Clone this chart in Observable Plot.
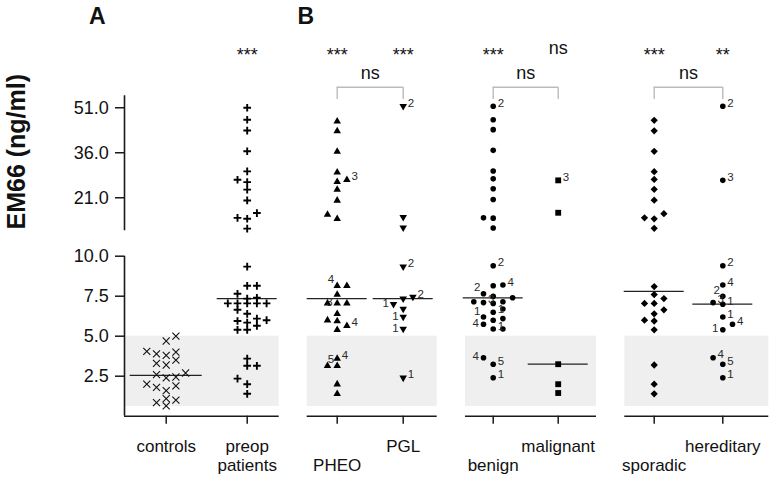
<!DOCTYPE html>
<html><head><meta charset="utf-8">
<script src="https://cdn.jsdelivr.net/npm/d3@7"></script>
<script src="https://cdn.jsdelivr.net/npm/@observablehq/plot@0.6"></script>
<style>body{margin:0;background:#fff;}</style>
</head><body><div id="chart"></div>
<script>
// ---------------- DATA ----------------
const categories = ["controls","preop","PHEO","PGL","benign","malignant","sporadic","hereditary"];
const categoryLabels = ["controls","preop\npatients","\nPHEO","PGL","\nbenign","malignant","\nsporadic","hereditary"];
const controls = [5.0,4.7,4.05,4.0,3.9,3.8,3.5,3.3,3.2,2.7,2.6,2.45,2.4,2.0,1.9,1.8,1.6,1.1,1.0,0.85,0.65];
const preop = [51.0,47.0,43.4,36.5,29.8,27.0,26.2,23.7,20.1,15.9,14.3,14.0,10.7,9.35,8.15,8.15,7.65,7.4,7.35,7.05,7.05,7.05,7.05,7.05,6.65,6.4,6.1,6.0,5.95,5.85,5.65,5.4,5.4,3.6,3.15,3.15,2.35,2.0,1.4];
const pheo = [46.5,43.2,36.4,29.5,27.0,26.3,23.7,20.1,15.4,14.0,8.15,8.15,7.6,7.05,7.05,7.05,6.4,6.0,5.95,5.65,5.4,3.6,3.15,3.15,2.0,1.4];
const pgl = [51.5,14.5,11.0,9.35,7.45,7.35,7.0,6.7,6.2,5.45,2.4];
const benign = [51.5,47.0,43.7,36.8,29.9,27.3,24.0,20.4,14.3,14.2,10.9,9.4,8.2,8.15,7.65,7.5,7.4,7.15,7.15,7.1,7.05,6.7,6.5,6.2,6.1,6.0,5.75,5.45,5.45,3.65,3.25,2.4];
const malignant = [26.8,16.0,3.25,2.0,1.45];
const sporadic = [46.8,43.3,36.5,29.7,27.1,23.8,20.2,15.7,14.3,14.0,10.8,8.1,7.6,7.35,7.05,7.05,6.65,6.4,6.0,5.95,5.4,3.2,2.0,1.4];
const hereditary = [51.5,26.8,9.4,8.2,7.5,7.1,7.0,6.2,5.75,5.4,3.65,3.25,2.4];
const seriesValues = [controls, preop, pheo, pgl, benign, malignant, sporadic, hereditary];
const medians = [2.55,7.35,7.35,7.35,7.4,3.25,7.8,7.0];
const significance = ["", "***","***","***","***","ns","***","**"];
const comparisons = [["PHEO","PGL","ns"],["benign","malignant","ns"],["sporadic","hereditary","ns"]];
const referenceRange = [0.6, 5.0];
const lowerTicks = [2.5, 5.0, 7.5, 10.0];
const upperTicks = [21.0, 36.0, 51.0];
const lowerSegment = [0, 10];
const upperSegment = [10, 55];
// point annotations: [category, value, text, side]
const pointNotes = [
  ["PHEO",27.0,"3","r"],["PHEO",8.15,"4","ul"],["PHEO",7.05,"3","l"],["PHEO",5.65,"4","r"],["PHEO",3.6,"4","r"],["PHEO",3.15,"5","ul"],
  ["PGL",51.5,"2","r"],["PGL",9.35,"2","r"],["PGL",7.45,"2","r"],["PGL",7.0,"1","l"],["PGL",6.2,"1","l"],["PGL",5.45,"1","l"],["PGL",2.4,"1","r"],
  ["benign",51.5,"2","r"],["benign",9.4,"2","r"],["benign",8.2,"4","r"],["benign",7.65,"2","ul"],["benign",7.1,"3","r"],["benign",6.5,"1","r"],
  ["benign",6.2,"1","ul"],["benign",5.75,"4","l"],["benign",5.45,"1","r"],["benign",3.65,"4","l"],["benign",3.25,"5","r"],["benign",2.4,"1","r"],
  ["malignant",26.8,"3","r"],
  ["hereditary",51.5,"2","r"],["hereditary",26.8,"3","r"],["hereditary",9.4,"2","r"],["hereditary",8.2,"4","r"],["hereditary",7.5,"2","ul"],
  ["hereditary",7.1,"3","r"],["hereditary",7.0,"1","r"],["hereditary",6.2,"1","r"],["hereditary",5.75,"4","r"],["hereditary",5.4,"1","l"],
  ["hereditary",3.65,"4","r"],["hereditary",3.25,"5","r"],["hereditary",2.4,"1","r"]
];

// ---------------- LAYOUT ----------------
const layout = {
  catX: {controls:165.7, preop:246.7, PHEO:336.7, PGL:402.7, benign:492.7, malignant:557.7, sporadic:653.7, hereditary:722.3},
  panels: [[124,278.7],[306.7,436.7],[465,596],[624.3,768.3]],
  titles: [["A",96.7],["B",305.3]],
  yTitleX: 16,
  step: 9.7, collide: 7, maxK: 2, medianHalf: 30, controlsMedianHalf: 36,
  gapUnits: 1.59, upperRatio: 3/16
};
const brkUp = v => lowerSegment[1] + layout.gapUnits + (v - lowerSegment[1]) * layout.upperRatio;
const brk = v => v <= lowerSegment[1] ? v : brkUp(v);
const yOpts = {domain: [0, 10], range: [415.7, 255.7]};
const yScale = Plot.scale({y: yOpts});
const yPx = v => yScale.apply(brk(v));
const yAtPx = px => yScale.invert(px);
const axisX = layout.panels[0][0];

// symbols
const triDown = {draw(ctx, size) {
  const y = -Math.sqrt(size / (Math.sqrt(3) * 3));
  ctx.moveTo(0, -y * 2); ctx.lineTo(-Math.sqrt(3) * y, y); ctx.lineTo(Math.sqrt(3) * y, y); ctx.closePath();
}};
const diamondSq = {draw(ctx, size) {
  const r = Math.sqrt(size / 2);
  ctx.moveTo(0, -r); ctx.lineTo(r, 0); ctx.lineTo(0, r); ctx.lineTo(-r, 0); ctx.closePath();
}};
const symbolStyle = {
  controls: {symbol: "times", r: 3.3, stroke: "#111", strokeWidth: 1.1, fill: "none"},
  preop: {symbol: "plus", r: 2.6, stroke: "#000", strokeWidth: 1.9, fill: "none"},
  PHEO: {symbol: "triangle", r: 2.8, fill: "#000"},
  PGL: {symbol: triDown, r: 2.8, fill: "#000"},
  benign: {symbol: "circle", r: 2.8, fill: "#000"},
  malignant: {symbol: "square", r: 3.3, fill: "#000"},
  sporadic: {symbol: diamondSq, r: 2.9, fill: "#000"},
  hereditary: {symbol: "circle", r: 2.8, fill: "#000"}
};

// ---------------- build point table & swarm (beeswarm per category) ----------------
const points = [];
categories.forEach((cat, ci) => {
  const pts = seriesValues[ci].map(v => ({cat, v, k: 0, label: null, side: null}));
  const order = pts.slice().sort((a, b) => a.v - b.v);
  const placed = [];
  let pref = -1;
  for (const p of order) {
    const y = yPx(p.v);
    const gap = k => placed.reduce((m, q) => q.k === k ? Math.min(m, Math.abs(q.y - y)) : m, Infinity);
    const cands = [0];
    for (let m = 1; m <= layout.maxK; m++) cands.push(pref * m, -pref * m);
    let k = cands.find(c => gap(c) >= layout.collide);
    if (k === undefined) {
      let best = -1;
      for (const c of cands) { const g = gap(c); if (g > best + 1e-9) { best = g; k = c; } }
    }
    if (k !== 0) pref = -Math.sign(k);
    placed.push({y, k});
    p.k = k;
  }
  pts.forEach(p => { p.x = layout.catX[cat] + p.k * layout.step; });
  points.push(...pts);
});
for (const [cat, v, text, side] of pointNotes) {
  const p = points.find(q => q.cat === cat && Math.abs(q.v - v) < 1e-9 && q.label == null);
  if (p) { p.label = text; p.side = side; }
}

// ---------------- marks ----------------
const marks = [];
marks.push(Plot.rect(layout.panels, {x1: d => d[0], x2: d => d[1], y1: brk(referenceRange[0]), y2: brk(referenceRange[1]), fill: "#efefef"}));
marks.push(Plot.ruleY(layout.panels, {y: lowerSegment[0], x1: d => d[0], x2: d => d[1], stroke: "#1a1a1a", strokeWidth: 1.6}));
marks.push(Plot.ruleX(categories, {x: c => layout.catX[c], y1: lowerSegment[0], y2: yAtPx(yScale.apply(0) + 8), stroke: "#1a1a1a", strokeWidth: 1.5}));
// y axis lines
marks.push(Plot.ruleX([[lowerSegment[0], lowerSegment[1]], [brkUp(upperSegment[0]), brkUp(upperSegment[1])]], {x: axisX, y1: d => d[0], y2: d => d[1], stroke: "#1a1a1a", strokeWidth: 1.6}));
const yTicks = [...lowerTicks.map(t => ({t, y: t})), ...upperTicks.map(t => ({t, y: brkUp(t)}))];
marks.push(Plot.ruleY(yTicks, {y: "y", x1: axisX - 9, x2: axisX, stroke: "#1a1a1a", strokeWidth: 1.5}));
marks.push(Plot.text(yTicks, {y: "y", x: axisX, dx: -15.7, text: d => d3.format(".1f")(d.t), textAnchor: "end", lineAnchor: "middle", fontSize: 18, fill: "#111"}));
// medians
marks.push(Plot.ruleY(categories, {
  y: (c, i) => brk(medians[i]),
  x1: c => layout.catX[c] - (c === "controls" ? layout.controlsMedianHalf : layout.medianHalf),
  x2: c => layout.catX[c] + (c === "controls" ? layout.controlsMedianHalf : layout.medianHalf),
  stroke: "#222", strokeWidth: 1.3
}));
// points
for (const cat of categories) {
  marks.push(Plot.dot(points.filter(p => p.cat === cat), {x: "x", y: d => brk(d.v), ...symbolStyle[cat]}));
}
// point annotations
const noted = points.filter(p => p.label != null);
const noteStyle = {text: "label", lineAnchor: "middle", fontSize: 11.5, fill: "#2a2a2a"};
marks.push(Plot.text(noted.filter(p => p.side === "r"), {x: "x", y: d => brk(d.v), dx: 4.5, dy: -3, textAnchor: "start", ...noteStyle}));
marks.push(Plot.text(noted.filter(p => p.side === "l"), {x: "x", y: d => brk(d.v), dx: -4.5, dy: -1, textAnchor: "end", ...noteStyle}));
marks.push(Plot.text(noted.filter(p => p.side === "ul"), {x: "x", y: d => brk(d.v), dx: -3, dy: -6, textAnchor: "end", ...noteStyle}));
// significance above each group
const sig = categories.map((c, i) => ({c, s: significance[i]})).filter(d => d.s);
marks.push(Plot.text(sig.filter(d => d.s !== "ns"), {x: d => layout.catX[d.c], text: "s", frameAnchor: "top", dy: 60.5, lineAnchor: "bottom", fontSize: 18, fill: "#111"}));
marks.push(Plot.text(sig.filter(d => d.s === "ns"), {x: d => layout.catX[d.c], text: "s", frameAnchor: "top", dy: 53, lineAnchor: "bottom", fontSize: 18, fill: "#111"}));
// comparison brackets
const bTop = yAtPx(86.7), bFoot = yAtPx(99);
marks.push(Plot.ruleY(comparisons, {y: bTop, x1: d => layout.catX[d[0]], x2: d => layout.catX[d[1]], stroke: "#bbb", strokeWidth: 1.4}));
marks.push(Plot.ruleX(comparisons.flatMap(d => [d[0], d[1]]), {x: c => layout.catX[c], y1: bTop, y2: bFoot, stroke: "#bbb", strokeWidth: 1.4}));
marks.push(Plot.text(comparisons, {x: d => (layout.catX[d[0]] + layout.catX[d[1]]) / 2, text: d => d[2], frameAnchor: "top", dy: 78.3, lineAnchor: "bottom", fontSize: 18, fill: "#111"}));
// category labels (line by line)
const catLines = categories.flatMap((c, i) => categoryLabels[i].split("\n").map((t, j) => ({c, t, j}))).filter(d => d.t);
marks.push(Plot.text(catLines.filter(d => d.j === 0), {x: d => layout.catX[d.c], text: "t", frameAnchor: "top", dy: 451.7, lineAnchor: "bottom", fontSize: 17, fill: "#111"}));
marks.push(Plot.text(catLines.filter(d => d.j === 1), {x: d => layout.catX[d.c], text: "t", frameAnchor: "top", dy: 470.5, lineAnchor: "bottom", fontSize: 17, fill: "#111"}));
// panel titles
marks.push(Plot.text(layout.titles, {x: d => d[1], text: d => d[0], frameAnchor: "top", dy: 23.5, lineAnchor: "bottom", fontSize: 23, fontWeight: "bold", fill: "#111"}));
// y title
marks.push(Plot.text(["EM66 (ng/ml)"], {x: layout.yTitleX, frameAnchor: "left", dy: -11, rotate: -90, lineAnchor: "middle", fontSize: 25, fontWeight: "bold", fill: "#111"}));

const chart = Plot.plot({
  width: 774, height: 480, margin: 0,
  style: {fontFamily: "'Liberation Sans', Arial, sans-serif", background: "#fff", overflow: "visible"},
  x: {type: "linear", domain: [0, 774], range: [0, 774], axis: null},
  y: {type: "linear", ...yOpts, axis: null},
  marks
});
document.getElementById("chart").append(chart);
</script>
</body></html>
